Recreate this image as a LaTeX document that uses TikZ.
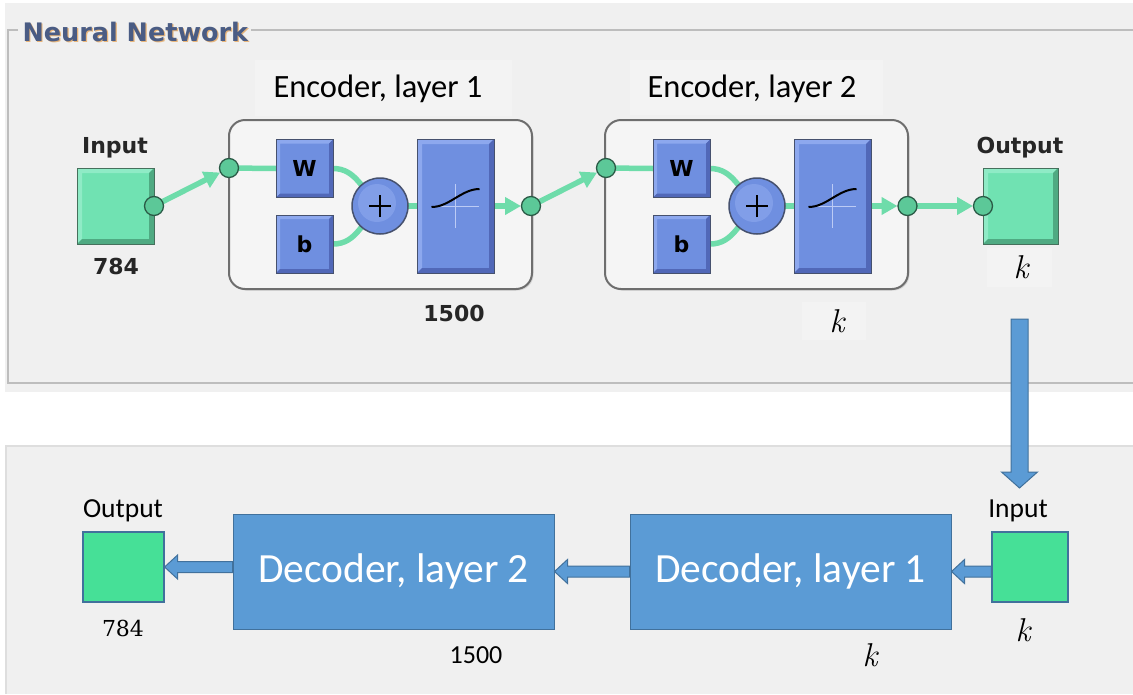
\documentclass[tikz,border=0pt]{standalone}
\usepackage{fontspec}
\setmainfont{Carlito}
\newfontfamily\uifont{DejaVu Sans}
\newfontfamily\serifnum{Latin Modern Roman}
\newfontfamily\serifdigits{DejaVu Serif}
\usetikzlibrary{arrows.meta,calc,shadows}

\definecolor{panelbg}{HTML}{F0F0F0}
\definecolor{labelbg}{HTML}{F3F3F3}
\definecolor{frameline}{HTML}{BDBDBD}
\definecolor{titleblue}{HTML}{4A5C84}
\definecolor{titleglow}{HTML}{E8B57A}
\definecolor{enclfill}{HTML}{F5F5F5}
\definecolor{enclline}{HTML}{6E6E6E}
\definecolor{wmain}{HTML}{6F8FE0}
\definecolor{wlight}{HTML}{8DA8EE}
\definecolor{wdark}{HTML}{5168B8}
\definecolor{wedge}{HTML}{46516E}
\definecolor{gmain}{HTML}{70E2B2}
\definecolor{glight}{HTML}{8FEBC6}
\definecolor{gdark}{HTML}{4FAA82}
\definecolor{gedge}{HTML}{46705C}
\definecolor{linkgreen}{HTML}{6EDCAA}
\definecolor{dotgreen}{HTML}{5CC898}
\definecolor{dotedge}{HTML}{2A5A46}
\definecolor{crosshair}{HTML}{BCCBF5}
\definecolor{offblue}{HTML}{5B9BD5}
\definecolor{offedge}{HTML}{41719C}
\definecolor{offgreen}{HTML}{46E097}

% bevelled block: node, light colour, dark colour, bevel depth, edge colour
\newcommand\bevel[5]{%
  \fill[#2] (#1.north west) -- (#1.north east) -- ([shift={(-#4,-#4)}]#1.north east)
    -- ([shift={(#4,-#4)}]#1.north west) -- ([shift={(#4,#4)}]#1.south west) -- (#1.south west) -- cycle;
  \fill[#3] (#1.south east) -- (#1.north east) -- ([shift={(-#4,-#4)}]#1.north east)
    -- ([shift={(-#4,#4)}]#1.south east) -- ([shift={(#4,#4)}]#1.south west) -- (#1.south west) -- cycle;
  \draw[#5, line width=1pt] (#1.north west) rectangle (#1.south east);}

% transfer-function glyph inside a block
\newcommand\tfglyph[1]{%
  \draw[crosshair, line width=1pt] ([yshift=22pt]#1.center) -- ([yshift=-22pt]#1.center);
  \draw[crosshair, line width=1pt] ([xshift=-15pt]#1.center) -- ([xshift=23pt]#1.center);
  \draw[black, line width=2pt] ([shift={(-24pt,-1pt)}]#1.center)
    .. controls ([shift={(-6pt,-1pt)}]#1.center) and ([shift={(6pt,17pt)}]#1.center)
    .. ([shift={(24pt,17pt)}]#1.center);}

% summing junction glyph
\newcommand\plusglyph[1]{%
  \fill[wlight, opacity=0.6] ([shift={(-3pt,3pt)}]#1.center) circle (19pt);
  \draw[black, line width=2.6pt] ([xshift=-11pt]#1.center) -- ([xshift=11pt]#1.center);
  \draw[black, line width=2.6pt] ([yshift=-11pt]#1.center) -- ([yshift=11pt]#1.center);}

% block arrows (horizontal, pointing left; vertical, pointing down)
\newcommand\leftblockarrow[2]{%
  \draw[fill=offblue, draw=offedge, line width=1pt] let \p1=(#1), \p2=(#2) in
    (\x1,\y2+5.5pt) -- (\x2+13pt,\y2+5.5pt) -- (\x2+13pt,\y2+12pt) -- (\x2,\y2)
    -- (\x2+13pt,\y2-12pt) -- (\x2+13pt,\y2-5.5pt) -- (\x1,\y2-5.5pt) -- cycle;}
\newcommand\downblockarrow[2]{%
  \draw[fill=offblue, draw=offedge, line width=1pt] let \p1=(#1), \p2=(#2) in
    (\x1-8.5pt,\y1) -- (\x1+8.5pt,\y1) -- (\x1+8.5pt,\y2+16pt) -- (\x1+18pt,\y2+16pt)
    -- (\x1,\y2) -- (\x1-18pt,\y2+16pt) -- (\x1-8.5pt,\y2+16pt) -- cycle;}

\begin{document}
\begin{tikzpicture}[x=1pt, y=-1pt,
  encl/.style={draw=enclline, line width=2pt, fill=enclfill, rounded corners=16pt,
    minimum width=303pt, minimum height=169pt, inner sep=0, outer sep=0,
    drop shadow={opacity=0.25, shadow xshift=1.5pt, shadow yshift=-1.5pt}},
  wbox/.style={fill=wmain, minimum width=57pt, minimum height=58pt, inner sep=0, outer sep=0},
  tfbox/.style={fill=wmain, minimum width=77pt, minimum height=134pt, inner sep=0, outer sep=0},
  sumnode/.style={circle, fill=wmain, draw=wedge, line width=1.5pt, minimum size=56pt, inner sep=0},
  iobox/.style={fill=gmain, minimum width=77pt, minimum height=76pt, inner sep=0, outer sep=0},
  dot/.style={circle, fill=dotgreen, draw=dotedge, line width=1.3pt, minimum size=19pt, inner sep=0},
  link/.style={draw=linkgreen, line width=5.5pt},
  linktip/.style={link, -{Triangle[length=16pt,width=17pt]}, shorten >=10pt},
  uilabel/.style={font=\uifont\bfseries\fontsize{22}{26}\selectfont, text=black!85},
  lettertext/.style={font=\uifont\bfseries\fontsize{22}{26}\selectfont},
  enclabel/.style={font=\fontsize{32.5}{38}\selectfont},
  italk/.style={font=\serifnum\itshape\fontsize{33}{38}\selectfont},
  decbox/.style={fill=offblue, draw=offedge, line width=1pt, minimum width=321pt,
    minimum height=115pt, inner sep=0, text=white, font=\fontsize{41.5}{48}\selectfont},
  outbox/.style={fill=offgreen, draw=offedge, line width=1.2pt, inner sep=0},
  smalltext/.style={font=\fontsize{27.5}{32}\selectfont}
]
\useasboundingbox (0,0) rectangle (1133,694);
\fill[white] (0,0) rectangle (1133,694);

% ---------- encoder panel ----------
\fill[panelbg] (5,3) rectangle (1133,392);
\draw[frameline, line width=1.5pt] (18,30) -- (8,30) -- (8,383) -- (1133,383);
\draw[frameline, line width=1.5pt] (251,30) -- (1133,30);
\node[anchor=west, text=titleglow, font=\uifont\bfseries\fontsize{25.5}{30}\selectfont]
  at (20.2,32.8) {Neural Network};
\node[anchor=west, text=titleblue, font=\uifont\bfseries\fontsize{25.5}{30}\selectfont]
  (title) at (19,31.5) {Neural Network};

% caption backgrounds
\fill[labelbg] (255,60) rectangle (512,116);
\fill[labelbg] (630,60) rectangle (883,115);
\fill[labelbg] (987,248) rectangle (1052,287);
\fill[labelbg] (802,302) rectangle (866,340);

\node[enclabel] (lab1) at (378,88.5) {Encoder, layer 1};
\node[enclabel] (lab2) at (752,88.5) {Encoder, layer 2};

% layer enclosures
\node[encl] (enc1) at (380.5,204.5) {};
\node[encl] (enc2) at (756.5,204.5) {};

% input / output blocks
\node[iobox] (inp) at (115.5,206) {};
\bevel{inp}{glight}{gdark}{5pt}{gedge}
\node[uilabel] at (115,148) {Input};
\node[uilabel] at (116,266) {784};

\node[iobox, minimum width=75pt] (outp) at (1020.5,206) {};
\bevel{outp}{glight}{gdark}{5pt}{gedge}
\node[uilabel] at (1020,148) {Output};
\node[italk] (kout) at (1021,267) {k};

% layer 1 internals
\node[wbox] (w1) at (304.5,168.5) {};
\node[wbox] (b1) at (304.5,244) {};
\node[tfbox] (tf1) at (455.5,206) {};
% layer 2 internals
\node[wbox] (w2) at (681.5,168.5) {};
\node[wbox] (b2) at (681.5,244) {};
\node[tfbox] (tf2) at (832.5,206) {};

% connection points
\coordinate (c0) at (inp.east);
\coordinate (c1) at (229,168);
\coordinate (c2) at (531,206);
\coordinate (c3) at (606,168);
\coordinate (c4) at (907.5,206);
\coordinate (c5) at (outp.west);
\coordinate (s1) at (380,206);
\coordinate (s2) at (757,206);

% green signal paths
\draw[linktip] (c0) -- (c1);
\draw[link] (c1) -- (w1.west);
\draw[link] (w1.east) to[out=0, in=140] (s1);
\draw[link] (b1.east) to[out=0, in=-140] (s1);
\draw[link] (s1) -- (tf1.west);
\draw[linktip] (tf1.east) -- (c2);
\draw[linktip] (c2) -- (c3);
\draw[link] (c3) -- (w2.west);
\draw[link] (w2.east) to[out=0, in=140] (s2);
\draw[link] (b2.east) to[out=0, in=-140] (s2);
\draw[link] (s2) -- (tf2.west);
\draw[linktip] (tf2.east) -- (c4);
\draw[linktip] (c4) -- (c5);

% blocks drawn over the paths
\foreach \n/\t in {w1/W, b1/b, w2/W, b2/b}{
  \bevel{\n}{wlight}{wdark}{4pt}{wedge}
  \node[lettertext] at (\n.center) {\t};
}
\foreach \n in {tf1, tf2}{
  \bevel{\n}{wlight}{wdark}{5pt}{wedge}
  \tfglyph{\n}
}
\node[sumnode] (sum1) at (s1) {};
\plusglyph{sum1}
\node[sumnode] (sum2) at (s2) {};
\plusglyph{sum2}

% junction dots
\foreach \c in {c0, c1, c2, c3, c4, c5}{
  \node[dot] (d\c) at (\c) {};
}

\node[uilabel] at (454,313) {1500};
\node[italk] (kenc) at (837,321) {k};

% ---------- decoder panel ----------
\fill[panelbg] (6,446) rectangle (1133,694);
\draw[black!13, line width=1.5pt] (1133,446) -- (6,446) -- (6,694);

\node[decbox] (dec2) at (393.5,571.5) {Decoder, layer 2};
\node[decbox] (dec1) at (790.5,571.5) {Decoder, layer 1};
\node[outbox, minimum width=81pt, minimum height=70pt] (outb) at (123.5,567) {};
\node[outbox, minimum width=76pt, minimum height=70pt] (inb) at (1030,567) {};

\node[smalltext] at (123,511) {Output};
\node[font=\serifdigits\fontsize{22}{26}\selectfont] at (123,628) {784};
\node[smalltext] at (1018,511) {Input};
\node[italk] at (1023,630) {k};
\node[font=\fontsize{26}{30}\selectfont] at (476,655) {1500};
\node[italk] at (870,655) {k};

% hand-over from encoder output to decoder input
\coordinate (handtop) at (1019.5,319);
\coordinate (handtip) at (1019.5,488);
\downblockarrow{handtop}{handtip}

\leftblockarrow{inb.west}{dec1.east}
\leftblockarrow{dec1.west}{dec2.east}
\leftblockarrow{dec2.west}{outb.east}
\end{tikzpicture}
\end{document}
